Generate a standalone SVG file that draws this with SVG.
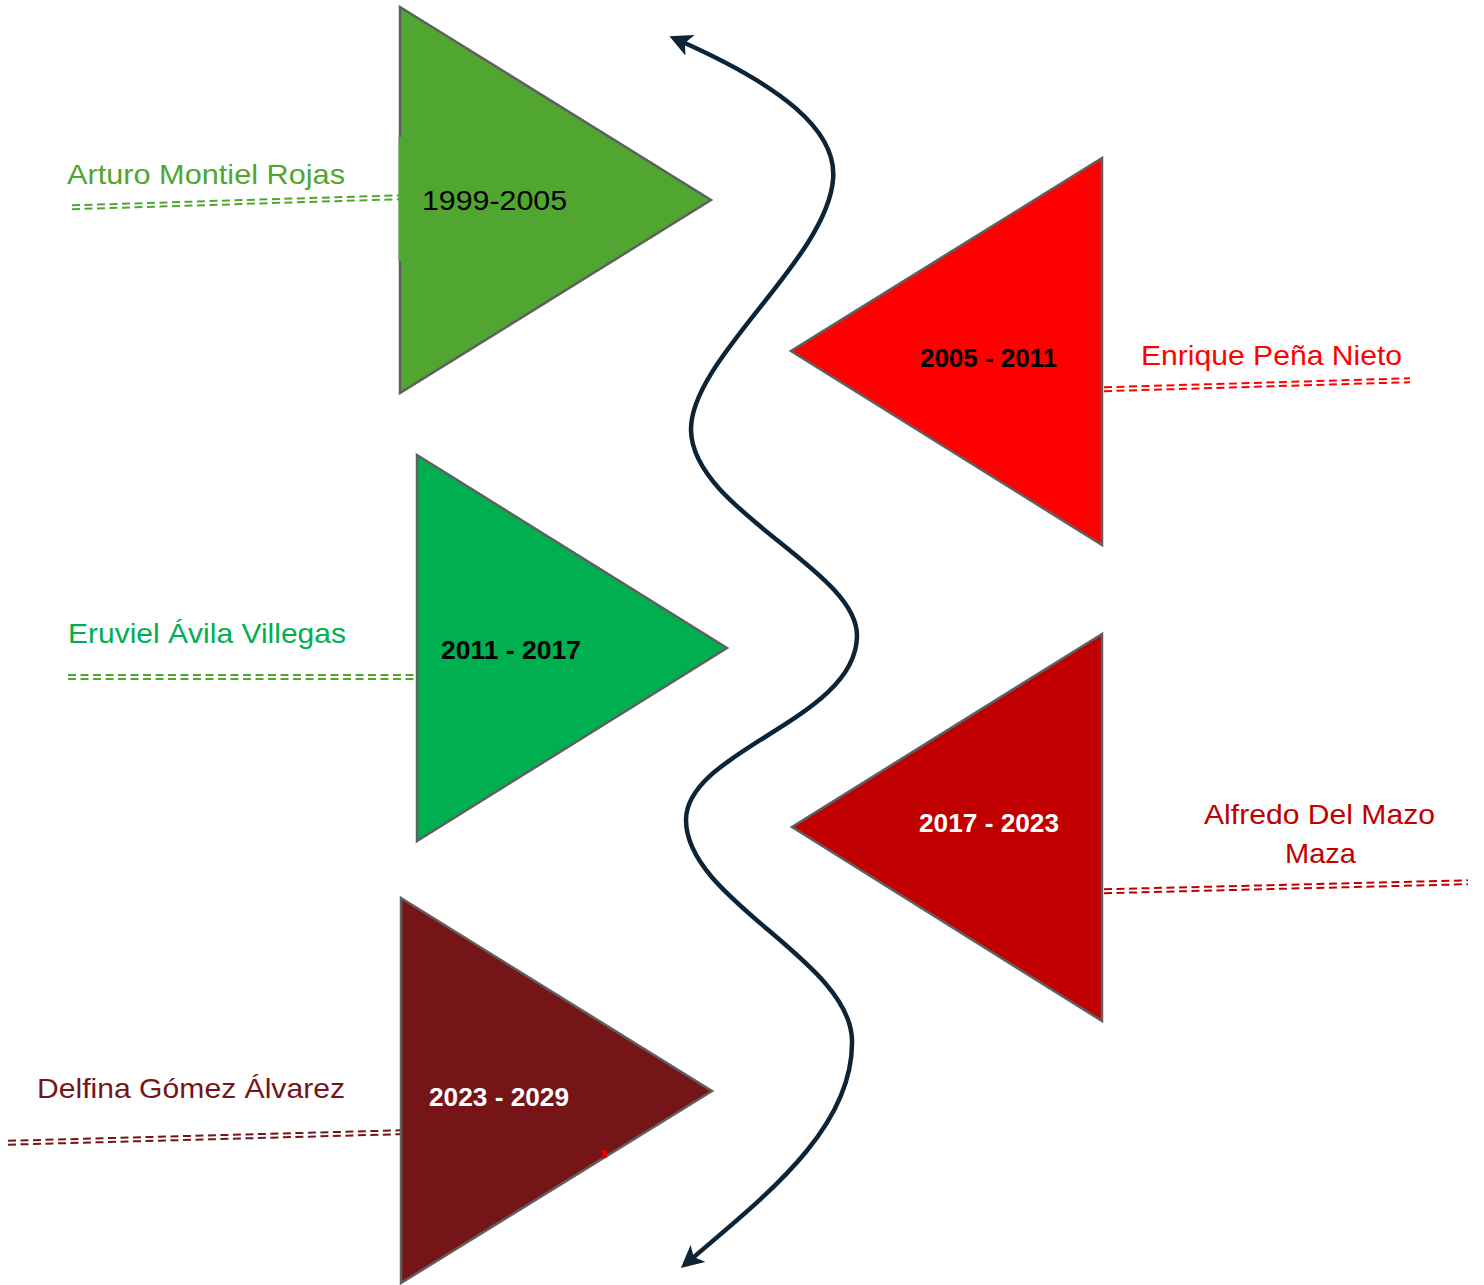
<svg xmlns="http://www.w3.org/2000/svg" width="1484" height="1285" viewBox="0 0 1484 1285">
  <style>
    .tri { stroke: #5f5f5f; stroke-width: 2.5; stroke-linejoin: miter; }
    .name { font-family: "Liberation Sans", "Open Sans", sans-serif; font-size: 28px; }
    .yr { font-family: "Liberation Sans", Arial, sans-serif; font-size: 25px; font-weight: bold; }
    .dl { fill: none; stroke-width: 2; stroke-dasharray: 8 4.5; }
    .curve { fill: none; stroke: #0d2436; stroke-width: 4.5; }
  </style>
  <defs>
    <marker id="ah" viewBox="0 0 12 12" refX="7" refY="6" markerWidth="5" markerHeight="5" orient="auto-start-reverse" markerUnits="strokeWidth">
      <path d="M0,0 L12,6 L0,12 L3,6 Z" fill="#0d2436"/>
    </marker>
  </defs>
  <rect width="1484" height="1285" fill="#ffffff"/>

  <g id="connectors">
    <path class="curve" d="M678,40 C780,85 838,130 833,180 C826,260 690,360 691,430 C692,510 858,570 857,636 C856,720 686,750 686,820 C686,900 850,960 852,1040 C854,1130 760,1200 688,1262" marker-start="url(#ah)" marker-end="url(#ah)"/>
  </g>

  <g id="node-1999">
    <polygon class="tri" points="400,7 711,200 400,393" fill="#50a630"/>
    <rect x="398.5" y="137" width="4" height="124" fill="#50a630"/>
    <text x="422" y="210" font-family="Liberation Sans, Arial, sans-serif" font-size="28" fill="#000" textLength="145" lengthAdjust="spacingAndGlyphs">1999-2005</text>
    <g stroke="#50a630"><path class="dl" d="M72,205.3 L400,195.3"/><path class="dl" d="M72,209.2 L400,199.2"/></g>
    <text class="name" x="67" y="184" fill="#50a630" textLength="278" lengthAdjust="spacingAndGlyphs">Arturo Montiel Rojas</text>
  </g>

  <g id="node-2005">
    <polygon class="tri" points="1102,158 791,351 1102,545" fill="#ff0000"/>
    <text class="yr" x="920" y="367" fill="#000" textLength="137" lengthAdjust="spacingAndGlyphs">2005 - 2011</text>
    <g stroke="#ff0000"><path class="dl" d="M1104,387.3 L1410,378.3"/><path class="dl" d="M1104,391.2 L1410,382.2"/></g>
    <text class="name" x="1141" y="365" fill="#ff0000" textLength="261" lengthAdjust="spacingAndGlyphs">Enrique Peña Nieto</text>
  </g>

  <g id="node-2011">
    <polygon class="tri" points="417,455 727,648 417,841" fill="#00b050"/>
    <text class="yr" x="441" y="659" fill="#000" textLength="140" lengthAdjust="spacingAndGlyphs">2011 - 2017</text>
    <g stroke="#50a630"><path class="dl" d="M68,675 L416,675"/><path class="dl" d="M68,679 L416,679"/></g>
    <text class="name" x="68" y="643" fill="#00b050" textLength="278" lengthAdjust="spacingAndGlyphs">Eruviel Ávila Villegas</text>
  </g>

  <g id="node-2017">
    <polygon class="tri" points="1102,634 792,827 1102,1021" fill="#c00000"/>
    <text class="yr" x="919" y="832" fill="#ffffff" textLength="140" lengthAdjust="spacingAndGlyphs">2017 - 2023</text>
    <g stroke="#c00000"><path class="dl" d="M1104,889.3 L1468,880.3"/><path class="dl" d="M1104,893.2 L1468,884.2"/></g>
    <text class="name" x="1204" y="824" fill="#c00000" textLength="231" lengthAdjust="spacingAndGlyphs">Alfredo Del Mazo</text>
    <text class="name" x="1285" y="863" fill="#c00000" textLength="71" lengthAdjust="spacingAndGlyphs">Maza</text>
  </g>

  <g id="node-2023">
    <polygon class="tri" points="401,898 712,1091 401,1283" fill="#761517"/>
    <rect x="602" y="1150" width="5" height="8" fill="#e00000"/>
    <text class="yr" x="429" y="1106" fill="#ffffff" textLength="140" lengthAdjust="spacingAndGlyphs">2023 - 2029</text>
    <g stroke="#761517"><path class="dl" d="M8,1140.8 L400,1130.3"/><path class="dl" d="M8,1144.7 L400,1134.2"/></g>
    <text class="name" x="37" y="1098" fill="#761517" textLength="308" lengthAdjust="spacingAndGlyphs">Delfina Gómez Álvarez</text>
  </g>
</svg>
